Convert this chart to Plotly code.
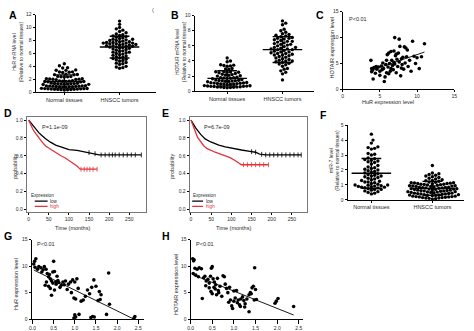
import numpy as np
import plotly.graph_objects as go

W, H = 474, 331

# ---------------- data ----------------
groups = ["Normal tissues", "HNSCC tumors"]

hur_normal = [0.35, 0.38, 0.40, 0.42, 0.44, 0.45, 0.47, 0.48, 0.50, 0.52, 0.53, 0.55, 0.56, 0.58, 0.60,
              0.80, 0.82, 0.84, 0.85, 0.87, 0.88, 0.90, 0.92, 0.93, 0.95, 0.97, 0.98, 1.00,
              1.20, 1.22, 1.25, 1.27, 1.28, 1.30, 1.32, 1.33, 1.35, 1.38, 1.40,
              1.60, 1.62, 1.65, 1.66, 1.68, 1.70, 1.72, 1.75, 1.78,
              1.95, 1.98, 2.00, 2.02, 2.05, 2.08, 2.10,
              2.35, 2.38, 2.40, 2.42, 2.45,
              2.70, 2.72, 2.75, 2.80,
              3.05, 3.10, 3.12, 3.15,
              3.38, 3.40, 3.45, 3.75, 3.80, 4.10, 4.40]
hur_tumor = [3.7, 3.8, 3.9, 4.0, 4.3, 4.4, 4.5, 4.6, 4.8, 4.9, 5.0, 5.1, 5.2,
             5.3, 5.4, 5.5, 5.6, 5.7, 5.8, 5.9, 6.0, 6.1, 6.2, 6.2, 6.3, 6.4, 6.5, 6.6,
             6.7, 6.8, 6.8, 6.9, 7.0, 7.0, 7.1, 7.1, 7.2, 7.2, 7.3, 7.3, 7.4, 7.4, 7.5, 7.5,
             7.6, 7.6, 7.6, 7.7, 7.7, 7.8, 7.8, 7.9, 8.0, 8.0, 8.1, 8.2, 8.2, 8.3, 8.4, 8.5,
             8.6, 8.7, 8.8, 8.9, 9.0, 9.2, 9.4, 9.6, 9.8, 10.0, 10.5, 11.0]

hotair_normal = [0.45, 0.48, 0.50, 0.52, 0.55, 0.55, 0.57, 0.60, 0.62, 0.65, 0.65, 0.68, 0.70, 0.72, 0.75,
                 0.90, 0.92, 0.95, 0.95, 0.98, 1.00, 1.02, 1.05, 1.08, 1.10, 1.12, 1.15,
                 1.25, 1.30, 1.33, 1.35, 1.38, 1.40, 1.42, 1.45, 1.48, 1.55,
                 1.65, 1.70, 1.72, 1.75, 1.78, 1.80, 1.85,
                 2.00, 2.05, 2.10, 2.15, 2.20, 2.25, 2.35,
                 2.45, 2.50, 2.52, 2.55, 2.58, 2.60,
                 2.90, 2.95, 3.00, 3.30, 3.35, 3.40, 3.45, 3.50, 3.90, 4.00, 4.40]
hotair_tumor = [1.5, 2.3, 2.5, 2.7, 2.9, 3.0, 3.3, 3.5, 3.6, 3.7, 3.8, 3.9, 4.0, 4.0, 4.1, 4.2, 4.3,
                4.4, 4.5, 4.6, 4.7, 4.8, 4.8, 4.9, 5.0, 5.0, 5.1, 5.2, 5.2, 5.3, 5.4, 5.5, 5.5,
                5.6, 5.6, 5.7, 5.8, 5.8, 5.9, 6.0, 6.1, 6.2, 6.2, 6.3, 6.4, 6.5, 6.6, 6.6, 6.7,
                6.8, 6.9, 7.0, 7.0, 7.1, 7.2, 7.3, 7.4, 7.5, 7.6, 7.8, 8.0, 8.2, 8.8, 9.0, 9.3]

mir7_normal = [0.40, 0.45, 0.50, 0.55, 0.60, 0.65, 0.70, 0.70, 0.75, 0.80, 0.82, 0.85, 0.85, 0.88,
               0.90, 0.92, 0.95, 0.98, 1.00, 1.00, 1.05, 1.10, 1.15, 1.20, 1.20, 1.25, 1.30, 1.35,
               1.40, 1.45, 1.50, 1.55, 1.60, 1.60, 1.65, 1.70, 1.75, 1.80, 1.85, 1.90, 1.95, 2.00,
               2.05, 2.10, 2.15, 2.20, 2.30, 2.40, 2.50, 2.55, 2.60, 2.65, 2.70, 2.75, 2.80,
               3.00, 3.05, 3.10, 3.40, 3.45, 3.50, 3.55, 3.80, 4.00, 4.40]
mir7_tumor = [0.05, 0.08, 0.10, 0.12, 0.15, 0.15, 0.18, 0.20, 0.20, 0.22, 0.25, 0.25, 0.28, 0.30,
              0.30, 0.32, 0.35, 0.35, 0.38, 0.40, 0.40, 0.42, 0.45, 0.45, 0.48, 0.50, 0.50, 0.52,
              0.55, 0.55, 0.58, 0.60, 0.60, 0.62, 0.65, 0.65, 0.68, 0.70, 0.70, 0.72, 0.75, 0.75,
              0.78, 0.80, 0.80, 0.82, 0.85, 0.85, 0.88, 0.90, 0.90, 0.92, 0.95, 0.95, 0.98, 1.00,
              1.02, 1.05, 1.05, 1.08, 1.10, 1.10, 1.12, 1.15, 1.15, 1.18, 1.20, 1.25, 1.30, 1.35,
              1.40, 1.45, 1.50, 1.55, 1.60, 1.65, 1.70, 1.75, 1.80, 2.30,
              0.12, 0.22, 0.33, 0.43, 0.53, 0.63, 0.73, 0.83, 0.93, 1.03, 1.13, 1.28]

# C: HuR vs HOTAIR expression
c_hur = [3.8, 3.9, 3.9, 4.0, 4.1, 4.2, 4.5, 4.6, 4.8, 5.0, 5.2, 5.3, 5.5, 5.6, 5.7, 5.8, 5.9,
         6.0, 6.1, 6.2, 6.3, 6.4, 6.5, 6.6, 6.7, 6.8, 6.9, 7.0, 7.0, 7.1, 7.2, 7.3, 7.4, 7.5,
         7.6, 7.6, 7.7, 7.8, 7.9, 8.0, 8.1, 8.2, 8.3, 8.4, 8.5, 8.6, 8.8, 9.0, 9.2, 9.4, 9.6,
         9.8, 10.0, 10.3, 10.6, 11.0, 5.0, 5.4, 6.2, 6.9, 7.2, 7.9, 8.7, 4.4, 5.9, 6.5]
c_hotair = [5.6, 4.0, 3.4, 3.7, 2.0, 4.2, 4.4, 3.9, 4.3, 2.7, 4.5, 3.8, 4.0, 1.5, 2.4, 4.8, 3.2,
            6.7, 4.3, 7.0, 5.0, 3.5, 7.3, 5.6, 4.6, 3.8, 5.2, 10.0, 4.9, 6.5, 3.2, 5.8, 4.4, 7.0,
            9.7, 5.3, 8.3, 2.6, 5.9, 4.8, 6.2, 3.9, 8.2, 5.1, 8.0, 6.3, 4.4, 5.6, 3.5, 9.3, 6.4,
            5.0, 6.1, 4.0, 6.3, 8.8, 3.5, 5.1, 3.0, 7.4, 6.8, 4.1, 7.6, 3.1, 5.6, 4.0]

# G: miR-7 vs HuR expression
g_mir7 = [0.03, 0.05, 0.08, 0.06, 0.12, 0.15, 0.20, 0.22, 0.25, 0.28, 0.32, 0.35, 0.38, 0.40,
          0.42, 0.45, 0.48, 0.50, 0.52, 0.55, 0.58, 0.30, 0.33, 0.38, 0.42, 0.45, 0.48, 0.52,
          0.56, 0.60, 0.62, 0.65, 0.68, 0.72, 0.75, 0.78, 0.82, 0.85, 0.90, 0.95, 1.00, 1.05,
          0.92, 0.98, 1.02, 1.08, 1.15, 1.20, 1.25, 1.30, 1.35, 1.40, 1.45, 1.50, 1.55, 1.58,
          1.60, 1.62, 0.98, 1.00, 1.02, 1.10, 1.38, 1.42, 1.46, 1.80, 1.82, 1.75, 2.42, 2.40]
g_hur = [10.4, 10.9, 11.4, 9.8, 9.4, 9.9, 9.7, 8.9, 9.3, 9.9, 9.4, 8.6, 8.0, 8.4,
         7.6, 7.2, 8.9, 10.9, 9.0, 7.0, 8.1, 6.4, 7.0, 6.2, 5.8, 4.5, 6.8, 5.5,
         6.6, 7.3, 6.9, 6.0, 6.4, 7.0, 6.5, 7.2, 5.6, 6.6, 7.0, 7.4, 7.0, 7.6,
         5.0, 4.0, 3.8, 5.8, 3.4, 3.6, 4.3, 5.5, 4.8, 6.0, 7.4, 6.2, 3.5, 5.2,
         3.7, 4.6, 0.2, 0.8, 0.4, 0.9, 0.3, 0.5, 0.4, 8.7, 2.8, 0.9, 0.5, 0.2]

# H: miR-7 vs HOTAIR expression
h_mir7 = [0.05, 0.07, 0.08, 0.10, 0.15, 0.20, 0.25, 0.06, 0.12, 0.27, 0.30, 0.33, 0.36, 0.40,
          0.43, 0.46, 0.48, 0.50, 0.52, 0.55, 0.58, 0.62, 0.43, 0.47, 0.50, 0.54, 0.57, 0.60,
          0.64, 0.68, 0.72, 0.75, 0.78, 0.80, 0.83, 0.86, 0.90, 0.88, 0.92, 0.95, 0.97, 1.00,
          1.03, 1.06, 1.08, 1.10, 1.13, 1.16, 1.20, 1.23, 1.26, 1.30, 1.35, 1.38, 1.40, 1.42,
          1.45, 1.48, 1.50, 1.47, 1.52, 1.35, 1.25, 1.95, 1.98, 2.02, 2.38, 0.18, 0.35, 0.65,
          1.00, 1.15]
h_hotair = [11.4, 11.0, 11.2, 9.6, 9.4, 9.7, 9.5, 8.6, 8.3, 3.9, 7.8, 8.1, 7.2, 7.5,
            6.8, 8.1, 9.6, 9.9, 7.6, 7.0, 6.5, 7.7, 5.9, 5.2, 4.8, 6.0, 5.7, 4.6,
            5.4, 6.2, 4.3, 8.2, 8.0, 6.6, 5.8, 5.0, 6.0, 3.2, 3.6, 2.5, 2.0, 3.4,
            4.0, 5.4, 3.1, 3.6, 2.7, 3.8, 4.2, 3.5, 2.9, 3.8, 4.6, 5.0, 4.8, 5.9,
            6.2, 9.7, 5.6, 3.6, 3.7, 1.4, 2.3, 3.0, 3.4, 3.9, 2.4, 8.0, 6.3, 5.0,
            5.3, 2.4]

# Kaplan-Meier survival curves (time in months, survival probability)
d_low_t = [0, 5, 10, 18, 25, 32, 42, 55, 67, 80, 100, 120, 143, 160, 175, 200, 240, 280]
d_low_s = [1.0, 0.97, 0.94, 0.90, 0.86, 0.83, 0.79, 0.75, 0.72, 0.70, 0.67, 0.66, 0.64, 0.63, 0.61, 0.61, 0.61, 0.61]
d_high_t = [0, 5, 10, 14, 20, 26, 34, 42, 55, 67, 80, 91, 100, 108, 115, 120, 128, 140, 155, 170]
d_high_s = [1.0, 0.94, 0.90, 0.87, 0.83, 0.79, 0.75, 0.71, 0.67, 0.63, 0.60, 0.575, 0.55, 0.52, 0.50, 0.485, 0.45, 0.45, 0.45, 0.45]
d_low_cens = [150, 165, 180, 190, 200, 208, 215, 225, 235, 245, 255, 265, 280]
d_high_cens = [130, 138, 145, 152, 160, 170]

e_low_t = [0, 5, 12, 24, 35, 49, 60, 69, 85, 105, 125, 146, 160, 170, 185, 200, 240, 273]
e_low_s = [1.0, 0.96, 0.91, 0.84, 0.79, 0.755, 0.735, 0.72, 0.70, 0.68, 0.665, 0.65, 0.64, 0.62, 0.61, 0.61, 0.61, 0.61]
e_high_t = [0, 5, 10, 16, 24, 32, 40, 49, 60, 73, 85, 97, 108, 115, 121, 125, 140, 160, 192]
e_high_s = [1.0, 0.95, 0.88, 0.81, 0.76, 0.71, 0.68, 0.66, 0.64, 0.62, 0.60, 0.58, 0.55, 0.53, 0.51, 0.50, 0.50, 0.50, 0.50]
e_low_cens = [150, 160, 175, 185, 195, 205, 215, 225, 235, 245, 255, 265, 273]
e_high_cens = [130, 140, 150, 160, 170, 180, 192]

RED = "#e2333b"
TXT = "#2a2a2a"
FONT = "Liberation Sans, Arial, sans-serif"


def xdom(a, b):
    return [a / W, b / W]


def ydom(top, bottom):
    return [1 - bottom / H, 1 - top / H]


def swarm(values, center, ppx, ppy, d=3.3):
    """Beeswarm offsets: pack dots sideways so they do not overlap."""
    vals = np.asarray(values, float)
    order = np.argsort(vals)
    placed = []
    xs = np.zeros(len(vals))
    cands = [0.0]
    for k in range(1, 80):
        cands += [k * d / 2, -k * d / 2]
    for i in order:
        yp = vals[i] * ppy
        for c in cands:
            if all((c - a) ** 2 + (yp - b) ** 2 >= d * d * 0.92 for a, b in placed):
                break
        placed.append((c, yp))
        xs[i] = center + c / ppx
    return xs


def mean_sd_lines(values, center, half=0.35, cap=0.17):
    m = float(np.mean(values))
    s = float(np.std(values, ddof=1))
    xs = [center - half, center + half, None, center, center, None,
          center - cap, center + cap, None, center - cap, center + cap]
    ys = [m, m, None, m - s, m + s, None, m + s, m + s, None, m - s, m - s]
    return xs, ys


fig = go.Figure()

axis_base = dict(showline=True, linecolor="black", linewidth=1, ticks="outside", ticklen=2,
                 tickwidth=1, tickcolor="black", showgrid=False, zeroline=False,
                 tickfont=dict(size=5, color=TXT, family=FONT))

layout = dict(width=W, height=H, margin=dict(l=0, r=0, t=0, b=0), paper_bgcolor="white",
              plot_bgcolor="white", showlegend=False, font=dict(family=FONT, color=TXT))

annotations = []
shapes = []


def add_text(x, y, text, size=5.5, angle=0, bold=False, color=TXT, xanchor="center"):
    annotations.append(dict(x=x / W, y=1 - y / H, xref="paper", yref="paper", text=text,
                            showarrow=False, textangle=angle, xanchor=xanchor, yanchor="middle",
                            font=dict(size=size, color=color, family=FONT)))


# ---------- dot plots (A, B, F) ----------
dot_panels = [
    ("", hur_normal, hur_tumor, (33, 155), (12, 92), [-0.52, 1.66], [0, 12], list(range(0, 13, 2))),
    ("2", hotair_normal, hotair_tumor, (194, 315), (13, 91), [-0.59, 1.57], [0, 10], list(range(0, 11, 2))),
    ("6", mir7_normal, mir7_tumor, (349, 467), (126, 203), [-0.39, 1.52], [0, 5], list(range(0, 6))),
]
for ax, g0, g1, (xa, xb), (yt, yb), xr, yr, yt_vals in dot_panels:
    ppx = (xb - xa) / (xr[1] - xr[0])
    ppy = (yb - yt) / (yr[1] - yr[0])
    for ci, vals in enumerate([g0, g1]):
        fig.add_trace(go.Scatter(x=swarm(vals, ci, ppx, ppy), y=vals, mode="markers",
                                 marker=dict(size=3.4, color="black", line=dict(width=0)),
                                 xaxis="x" + ax, yaxis="y" + ax, cliponaxis=False))
        mx, my = mean_sd_lines(vals, ci, half=20 / ppx, cap=10 / ppx)
        fig.add_trace(go.Scatter(x=mx, y=my, mode="lines", line=dict(color="black", width=1.4),
                                 xaxis="x" + ax, yaxis="y" + ax, cliponaxis=False))
    layout["xaxis" + ax] = dict(axis_base, domain=xdom(xa, xb), range=xr, anchor="y" + ax,
                                tickvals=[0, 1], ticktext=groups,
                                tickfont=dict(size=5.5, color=TXT, family=FONT))
    layout["yaxis" + ax] = dict(axis_base, domain=ydom(yt, yb), range=yr, anchor="x" + ax,
                                tickvals=yt_vals)

# ---------- scatter + regression (C, G, H) ----------
scatter_panels = [
    ("3", c_hur, c_hotair, (344, 457), (9, 89), [0, 15], [0, 15], [0, 5, 10, 15], None, 2),
    ("7", g_mir7, g_hur, (29, 143), (244, 326), [-0.02, 2.64], [0, 15], [0, 0.5, 1.0, 1.5, 2.0, 2.5], ".1f", 4),
    ("8", h_mir7, h_hotair, (190, 304), (244, 326), [0, 2.6], [0, 15], [0, 0.5, 1.0, 1.5, 2.0, 2.5], ".1f", 4),
]
for ax, xv, yv, (xa, xb), (yt, yb), xr, yr, xt, fmt, tl in scatter_panels:
    fig.add_trace(go.Scatter(x=xv, y=yv, mode="markers",
                             marker=dict(size=3.6, color="black", line=dict(width=0)),
                             xaxis="x" + ax, yaxis="y" + ax, cliponaxis=False))
    slope, icpt = np.polyfit(xv, yv, 1)
    lx = np.array([min(xv), max(xv)])
    fig.add_trace(go.Scatter(x=lx, y=slope * lx + icpt, mode="lines",
                             line=dict(color="black", width=0.9),
                             xaxis="x" + ax, yaxis="y" + ax))
    xa_d = dict(axis_base, domain=xdom(xa, xb), range=xr, anchor="y" + ax, tickvals=xt,
                ticklen=tl)
    if fmt:
        xa_d["tickformat"] = fmt
    layout["xaxis" + ax] = xa_d
    layout["yaxis" + ax] = dict(axis_base, domain=ydom(yt, yb), range=yr, anchor="x" + ax,
                                tickvals=[0, 5, 10, 15])

# ---------- Kaplan-Meier (D, E) ----------
km_panels = [
    ("4", (d_low_t, d_low_s, d_low_cens), (d_high_t, d_high_s, d_high_cens), (24, 145), [-5, 292]),
    ("5", (e_low_t, e_low_s, e_low_cens), (e_high_t, e_high_s, e_high_cens), (189, 308), [-3.4, 287.5]),
]
for ax, low, high, (xa, xb), xr in km_panels:
    for (t, s, cens), col in [(low, "black"), (high, RED)]:
        fig.add_trace(go.Scatter(x=t, y=s, mode="lines", line=dict(color=col, width=1.3),
                                 xaxis="x" + ax, yaxis="y" + ax))
        fig.add_trace(go.Scatter(x=cens, y=np.interp(cens, t, s), mode="markers",
                                 marker=dict(symbol="line-ns", size=3.5,
                                             line=dict(color=col, width=0.8)),
                                 xaxis="x" + ax, yaxis="y" + ax))
    layout["xaxis" + ax] = dict(axis_base, domain=xdom(xa, xb), range=xr, anchor="y" + ax,
                                tickvals=[0, 50, 100, 150, 200, 250], mirror=True,
                                linecolor="#777")
    layout["yaxis" + ax] = dict(axis_base, domain=ydom(118, 216), range=[-0.035, 1.03],
                                anchor="x" + ax, tickvals=[0, 0.2, 0.4, 0.6, 0.8, 1.0],
                                tickformat=".1f", mirror=True, linecolor="#777")

# legends and p values inside the survival panels
LEG_Y = [0.152, 0.092, 0.034]
for ax, lx0, lx1, tx, ex, px_ in [("4", 15, 47, 50, 2, 27), ("5", 3, 30, 35, 3, 28)]:
    for yy, col in [(LEG_Y[1], "black"), (LEG_Y[2], RED)]:
        shapes.append(dict(type="line", xref="x" + ax, yref="y" + ax, x0=lx0, x1=lx1, y0=yy, y1=yy,
                           line=dict(color=col, width=1.2)))
    for txt, xx, yy, col in [("Expression", ex, LEG_Y[0], TXT), ("low", tx, LEG_Y[1], TXT),
                             ("high", tx, LEG_Y[2], RED)]:
        annotations.append(dict(x=xx, y=yy, xref="x" + ax, yref="y" + ax, text=txt,
                                showarrow=False, xanchor="left", yanchor="middle",
                                borderpad=0, height=5,
                                font=dict(size=4.6, color=col, family=FONT)))
    annotations.append(dict(x=px_, y=0.925, xref="x" + ax, yref="y" + ax,
                            text="P=1.1e-09" if ax == "4" else "P=6.7e-09",
                            showarrow=False, xanchor="left", font=dict(size=5.5, color=TXT, family=FONT)))

# ---------- titles, labels, panel letters ----------
add_text(15, 50, "HuR mRNA level<br>(Relative to normal tissues)", size=5, angle=-90)
add_text(180, 50, "HOTAIR mRNA level<br>(Relative to normal tissues)", size=5, angle=-90)
add_text(335, 162, "miR-7 level<br>(Relative to normal tissues)", size=5, angle=-90)
add_text(333, 46, "HOTAIR expression level", size=5.5, angle=-90)
add_text(390, 102, "HuR expression level", size=5.5)
add_text(12, 168, "probability", size=5.5, angle=-90)
add_text(171, 168, "probability", size=5.5, angle=-90)
add_text(70, 232, "Time (months)", size=5.5)
add_text(233, 232, "Time (months)", size=5.5)
add_text(13, 290, "HuR expression level", size=5.5, angle=-90)
add_text(175, 290, "HOTAIR expression level", size=5.5, angle=-90)
add_text(348, 16, "P<0.01", size=5.5, xanchor="left")
add_text(32, 249, "P<0.01", size=5.5, xanchor="left")
add_text(193, 249, "P<0.01", size=5.5, xanchor="left")
add_text(152, 7, "(", size=6, color="#555")

for letter, x, y in [("A", 10.5, 12), ("B", 174.5, 12.5), ("C", 321.5, 12), ("D", 5, 113),
                     ("E", 164.5, 113.5), ("F", 324.5, 115), ("G", 5, 240), ("H", 165, 240)]:
    add_text(x, y, "<b>%s</b>" % letter, size=10.5, color="black")

layout["annotations"] = annotations
layout["shapes"] = shapes
fig.update_layout(**layout)
fig.write_html("out.html")
